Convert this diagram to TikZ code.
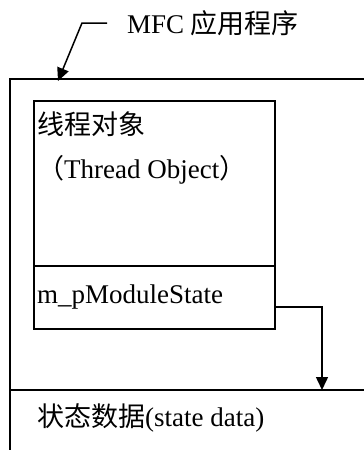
\documentclass[tikz,border=0pt]{standalone}
\usepackage{fontspec}
\setmainfont{Liberation Serif}
\newfontfamily\cjk{Noto Sans CJK SC}
\usetikzlibrary{arrows.meta}
\begin{document}
\begin{tikzpicture}[x=1pt,y=-1pt,
  txt/.style={anchor=base west,inner sep=0pt,font=\fontsize{27}{32}\selectfont},
  box/.style={draw,line width=1.6pt,anchor=north west,minimum width=241pt,inner sep=0pt},
  frame/.style={line width=2pt},
  conn/.style={line width=1.5pt,-{Triangle[width=12pt,length=13pt]}}]
\useasboundingbox (0,0) rectangle (364,450);
% outer frame
\coordinate (tr) at (364,79);
\coordinate (tl) at (10,79);
\coordinate (bl) at (10,450);
\coordinate (sl) at (10,390);
\coordinate (sr) at (364,390);
\draw[frame] (tr) -- (tl) -- (bl);
\draw[frame] (sl) -- (sr);
% inner boxes
\node[box,minimum height=165pt] (thread) at (33,100) {};
\node[box,minimum height=63pt] (mps) at (33,265) {};
% texts
\node[txt] (title) at (127,33) {MFC {\cjk 应用程序}};
\node[txt] (t1) at (37,134) {\cjk 线程对象};
\node[txt] (t2) at (37,178) {{\cjk （}Thread Object{\cjk ）}};
\node[txt] (t3) at (37,303) {m\_pModuleState};
\node[txt] (t4) at (37,426) {{\cjk 状态数据}(state data)};
% connectors
\coordinate (a1) at (107,23);
\coordinate (a2) at (82,23);
\coordinate (a3) at (58,81);
\draw[conn] (a1) -- (a2) -- (a3);
\coordinate (b1) at (274,307);
\coordinate (b2) at (322,390);
\draw[conn] (b1) -| (b2);
\end{tikzpicture}
\end{document}
